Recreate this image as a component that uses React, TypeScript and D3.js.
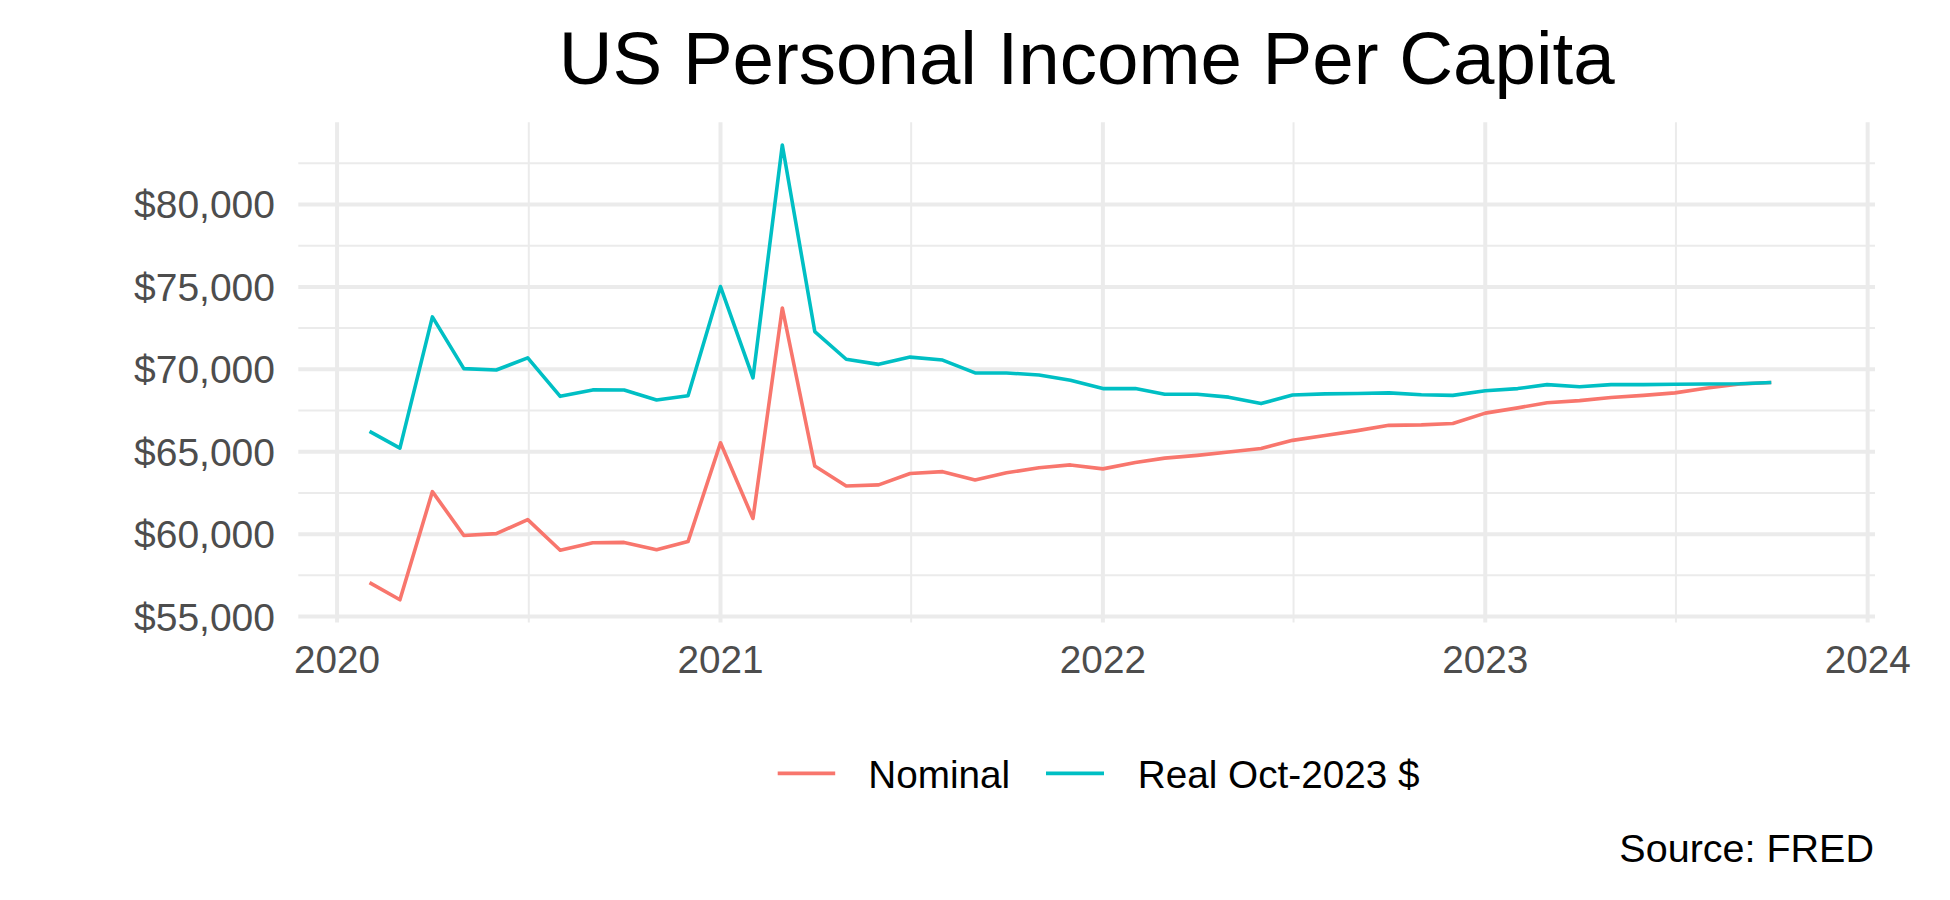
import React from "react";
import * as d3 from "d3";

const months = [
  "2020-02", "2020-03", "2020-04", "2020-05", "2020-06", "2020-07", "2020-08", "2020-09", "2020-10", "2020-11", "2020-12",
  "2021-01", "2021-02", "2021-03", "2021-04", "2021-05", "2021-06", "2021-07", "2021-08", "2021-09", "2021-10", "2021-11", "2021-12",
  "2022-01", "2022-02", "2022-03", "2022-04", "2022-05", "2022-06", "2022-07", "2022-08", "2022-09", "2022-10", "2022-11", "2022-12",
  "2023-01", "2023-02", "2023-03", "2023-04", "2023-05", "2023-06", "2023-07", "2023-08", "2023-09", "2023-10",
];

const nominal = [
  57060, 56020, 62580, 59920, 60030, 60880, 59020, 59480, 59500, 59050, 59550,
  65540, 60950, 73720, 64130, 62920, 62990, 63680, 63790, 63290, 63720, 64030, 64200,
  63960, 64350, 64610, 64780, 64980, 65200, 65690, 65990, 66280, 66600, 66630, 66710,
  67340, 67660, 67970, 68100, 68290, 68420, 68570, 68870, 69110, 69200,
];

const real = [
  66230, 65220, 73180, 70040, 69960, 70690, 68360, 68750, 68740, 68140, 68400,
  75020, 69480, 83610, 72290, 70610, 70300, 70740, 70560, 69780, 69780, 69650, 69330,
  68830, 68830, 68490, 68490, 68310, 67920, 68440, 68510, 68530, 68570, 68460, 68420,
  68700, 68830, 69070, 68940, 69070, 69070, 69090, 69110, 69120, 69200,
];

const seriesNames = ["Nominal", "Real Oct-2023 $"];
const seriesColors = ["#F8766D", "#00BFC4"];
const yTicks = [55000, 60000, 65000, 70000, 75000, 80000];
const yMinor = [57500, 62500, 67500, 72500, 77500, 82500];
const xTickYears = ["2020", "2021", "2022", "2023", "2024"];
const xMinorDates = ["2020-07-02", "2021-07-02", "2022-07-02", "2023-07-02"];

const titleText = "US Personal Income Per Capita";
const captionText = "Source: FRED";

const FONT = "'Liberation Sans', Arial, Helvetica, sans-serif";

export default function App() {
  const W = 1950;
  const H = 900;
  const panel = { left: 298.3, right: 1875, top: 122.2, bottom: 622.5 };

  const parse = d3.utcParse("%Y-%m");
  const parseDay = d3.utcParse("%Y-%m-%d");
  const dates = months.map((m) => parse(m) as Date);

  const x = d3
    .scaleUtc()
    .domain([parseDay("2019-11-25") as Date, parseDay("2024-01-08") as Date])
    .range([panel.left, panel.right]);

  const all = nominal.concat(real);
  const lo = d3.min(all) as number;
  const hi = d3.max(all) as number;
  const pad = (hi - lo) * 0.05;
  const y = d3.scaleLinear().domain([lo - pad, hi + pad]).range([panel.bottom, panel.top]);

  const fmt = (v: number) => "$" + d3.format(",")(v);

  const line = d3
    .line<number>()
    .x((_, i) => x(dates[i]))
    .y((v) => y(v));

  const series = [nominal, real];

  const gridColor = "#EBEBEB";

  const legY = 773.3;
  const legTextY = 788.3;
  const keys = [
    { x0: 777.7, x1: 835.2, tx: 868.3 },
    { x0: 1046, x1: 1104, tx: 1137.8 },
  ];

  return (
    <svg
      width={W}
      height={H}
      viewBox={`0 0 ${W} ${H}`}
      style={{ position: "absolute", left: 0, top: 0, background: "#fff" }}
      fontFamily={FONT}
    >
      <rect x={0} y={0} width={W} height={H} fill="#fff" />
      {yMinor.map((v) => (
        <line key={"ym" + v} x1={panel.left} x2={panel.right} y1={y(v)} y2={y(v)} stroke={gridColor} strokeWidth={2} />
      ))}
      {xMinorDates.map((d) => {
        const px = x(parseDay(d) as Date);
        return <line key={"xm" + d} x1={px} x2={px} y1={panel.top} y2={panel.bottom} stroke={gridColor} strokeWidth={2} />;
      })}
      {yTicks.map((v) => (
        <line key={"y" + v} x1={panel.left} x2={panel.right} y1={y(v)} y2={y(v)} stroke={gridColor} strokeWidth={4} />
      ))}
      {xTickYears.map((yr) => {
        const px = x(parseDay(yr + "-01-01") as Date);
        return <line key={"x" + yr} x1={px} x2={px} y1={panel.top} y2={panel.bottom} stroke={gridColor} strokeWidth={4} />;
      })}
      {series.map((s, i) => (
        <path
          key={seriesNames[i]}
          d={line(s) as string}
          fill="none"
          stroke={seriesColors[i]}
          strokeWidth={3.6}
          strokeLinejoin="round"
        />
      ))}
      {yTicks.map((v) => (
        <text
          key={"yl" + v}
          x={275}
          y={y(v)}
          dy="0.36em"
          textAnchor="end"
          fontSize={39}
          fill="#4D4D4D"
        >
          {fmt(v)}
        </text>
      ))}
      {xTickYears.map((yr) => (
        <text
          key={"xl" + yr}
          x={x(parseDay(yr + "-01-01") as Date)}
          y={672.7}
          textAnchor="middle"
          fontSize={38.7}
          fill="#4D4D4D"
        >
          {yr}
        </text>
      ))}
      <text x={(panel.left + panel.right) / 2} y={84} textAnchor="middle" fontSize={74.5} fill="#000">
        {titleText}
      </text>
      {keys.map((k, i) => (
        <g key={"leg" + i}>
          <line x1={k.x0} x2={k.x1} y1={legY} y2={legY} stroke={seriesColors[i]} strokeWidth={3.8} />
          <text x={k.tx} y={legTextY} fontSize={38.7} fill="#000">
            {seriesNames[i]}
          </text>
        </g>
      ))}
      <text x={1874} y={861.7} textAnchor="end" fontSize={39.5} fill="#000">
        {captionText}
      </text>
    </svg>
  );
}
